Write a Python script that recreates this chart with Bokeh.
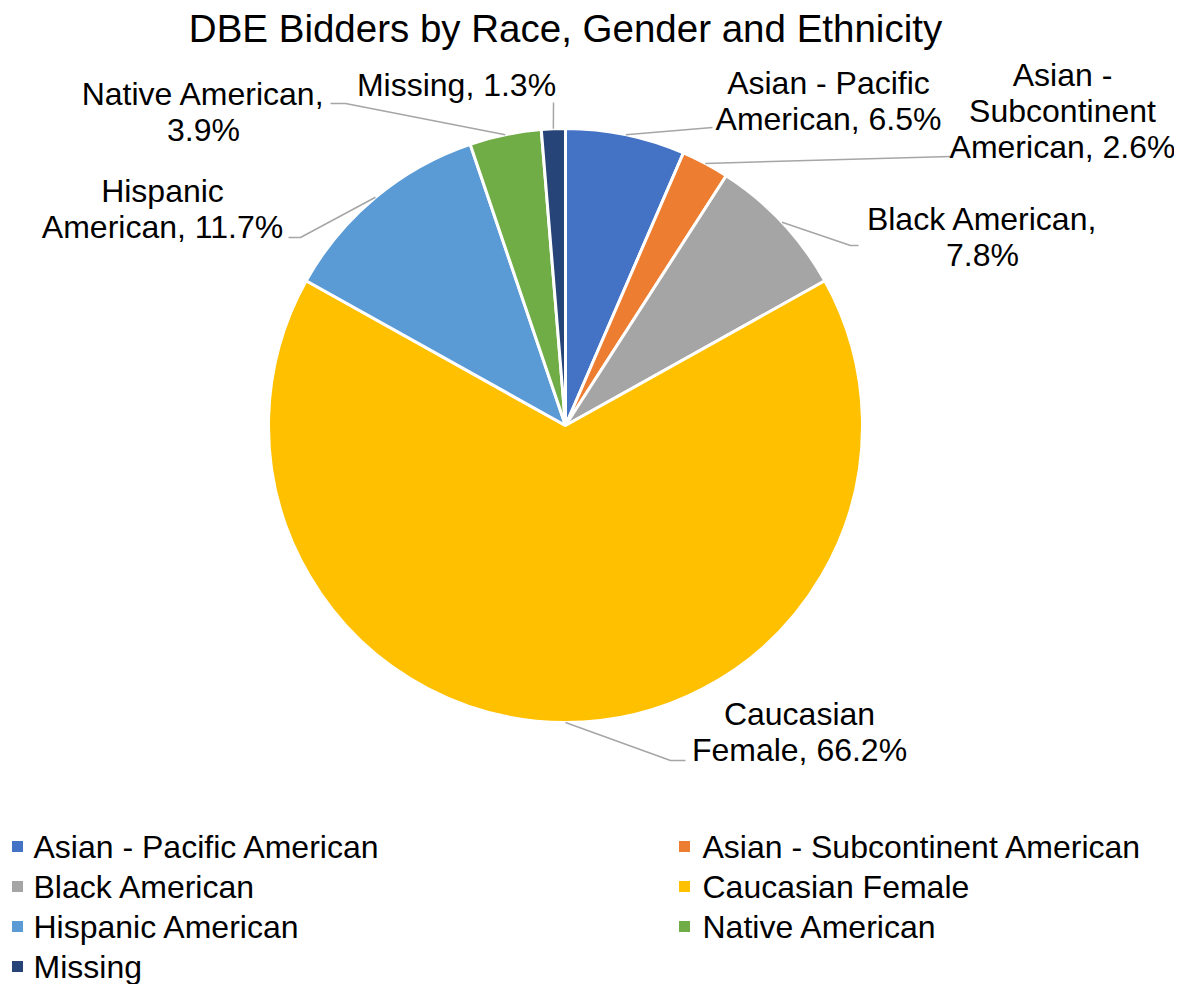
import numpy as np
from bokeh.plotting import figure
from bokeh.models import Range1d
from bokeh.core.properties import value
from bokeh.embed import file_html
from bokeh.resources import INLINE

# ---------------- data ----------------
categories = ["Asian - Pacific American", "Asian - Subcontinent American", "Black American",
              "Caucasian Female", "Hispanic American", "Native American", "Missing"]
shares = [6.5, 2.6, 7.8, 66.2, 11.7, 3.9, 1.3]
colors = ["#4472C4", "#ED7D31", "#A5A5A5", "#FFC000", "#5B9BD5", "#70AD47", "#264478"]
title_text = "DBE Bidders by Race, Gender and Ethnicity"

# wrapped forms of the data-label names, and separator before the percentage
label_names = ["Asian - Pacific\nAmerican", "Asian -\nSubcontinent\nAmerican", "Black American",
               "Caucasian\nFemale", "Hispanic\nAmerican", "Native American", "Missing"]
label_seps = [" ", " ", "\n", " ", " ", "\n", " "]

# ---------------- layout (picture pixels) ----------------
FW, FH = 1174, 984
cx, cy, R = 565, 425, 297
label_pos = [(828, 100), (1062, 110), (982, 236), (799, 731), (162, 208), (203, 111), (456, 84)]
leader_elbows = [[(712, 127)], [(950, 156)], [(850, 245), (858, 245)], [(670, 760), (685, 760)],
                 [(300, 237), (288, 237)], [(345, 103), (330, 103)], [(553, 102)]]

def Y(y):
    return FH - y

p = figure(width=FW, height=FH, x_range=Range1d(0, FW), y_range=Range1d(0, FH),
           x_axis_type=None, y_axis_type=None, toolbar_location=None, output_backend="svg",
           min_border=0, outline_line_color=None, background_fill_color="white",
           border_fill_color="white")
p.grid.visible = False

# ---------------- pie ----------------
fr = np.array(shares) / sum(shares)
cum_end = np.cumsum(fr)
cum_start = cum_end - fr
start_angles = np.pi / 2 - 2 * np.pi * cum_end
end_angles = np.pi / 2 - 2 * np.pi * cum_start
p.wedge(x=cx, y=Y(cy), radius=R, start_angle=start_angles, end_angle=end_angles,
        fill_color=colors, line_color="white", line_width=3)

# ---------------- leader lines ----------------
mid = 2 * np.pi * (cum_start + fr / 2)
xs, ys = [], []
for i in range(len(shares)):
    x0 = cx + R * np.sin(mid[i])
    y0 = cy - R * np.cos(mid[i])
    pts = [(x0, y0)] + leader_elbows[i]
    xs.append([pt[0] for pt in pts])
    ys.append([Y(pt[1]) for pt in pts])
p.multi_line(xs=xs, ys=ys, line_color="#A6A6A6", line_width=1.5)

# ---------------- data labels ----------------
labels = [f"{n},{s}{v:.1f}%" for n, s, v in zip(label_names, label_seps, shares)]
p.text(x=[lp[0] for lp in label_pos], y=[Y(lp[1]) for lp in label_pos], text=labels,
       text_align="center", text_baseline="middle", text_font=value("Liberation Sans"),
       text_font_size="32px", text_color="#000000", text_line_height=1.0)

# ---------------- title ----------------
p.text(x=[565], y=[Y(28)], text=[title_text], text_align="center", text_baseline="middle",
       text_font=value("Liberation Sans"), text_font_size="38.5px", text_color="#000000")

# ---------------- legend ----------------
sq_x, sq_y, tx_x = [], [], []
for i in range(len(categories)):
    col, row = i % 2, i // 2
    sq_x.append(17 + col * 667)
    tx_x.append(33 + col * 669)
    sq_y.append(Y(846 + row * 40))
p.scatter(x=sq_x, y=sq_y, marker="square", size=11, fill_color=colors, line_color=None)
p.text(x=tx_x, y=sq_y, text=categories, text_align="left", text_baseline="middle",
       text_font=value("Liberation Sans"), text_font_size="32px", text_color="#000000")

open("out.html", "w").write(file_html(p, INLINE))
